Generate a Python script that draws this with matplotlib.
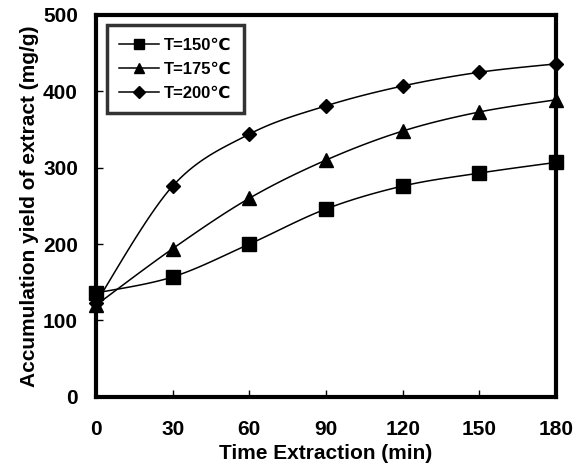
import numpy as np
import matplotlib.pyplot as plt

plt.rcParams['font.family'] = ['Liberation Sans', 'DejaVu Sans']
plt.rcParams['font.weight'] = 'bold'

time_min = [0, 30, 60, 90, 120, 150, 180]
yield_150 = [136, 157, 200, 246, 276, 293, 307]
yield_175 = [120, 194, 260, 310, 348, 373, 389]
yield_200 = [123, 276, 344, 381, 407, 425, 436]
labels = ['T=150\u2103', 'T=175\u2103', 'T=200\u2103']
markers = ['s', '^', 'D']
msizes = [9.5, 10, 7.5]


def smooth(x, y, n=20):
    # excel-like smoothed line: cubic bezier with catmull-rom control points
    x = np.asarray(x, float)
    y = np.asarray(y, float)
    xs, ys = [x[0]], [y[0]]
    for i in range(len(x) - 1):
        p0 = np.array([x[max(i - 1, 0)], y[max(i - 1, 0)]])
        p1 = np.array([x[i], y[i]])
        p2 = np.array([x[i + 1], y[i + 1]])
        p3 = np.array([x[min(i + 2, len(x) - 1)], y[min(i + 2, len(x) - 1)]])
        c1 = p1 + (p2 - p0) / 6
        c2 = p2 - (p3 - p1) / 6
        t = np.linspace(0, 1, n)[1:, None]
        pts = ((1 - t) ** 3) * p1 + 3 * ((1 - t) ** 2) * t * c1 + 3 * (1 - t) * t ** 2 * c2 + t ** 3 * p2
        xs.extend(pts[:, 0])
        ys.extend(pts[:, 1])
    return xs, ys


fig = plt.figure(figsize=(5.78, 4.68), dpi=100)
ax = fig.add_axes([0.166, 0.152, 0.796, 0.816])

for ys, lab, m, ms in zip([yield_150, yield_175, yield_200], labels, markers, msizes):
    sx, sy = smooth(time_min, ys)
    ax.plot(sx, sy, color='black', lw=1.1, zorder=2)
    ax.plot(time_min, ys, linestyle='none', marker=m, ms=ms, color='black', clip_on=False, zorder=3)
    ax.plot([], [], color='black', lw=1.1, marker=m, ms=ms, label=lab)

ax.set_xlim(0, 180)
ax.set_ylim(0, 500)
ax.set_xticks(time_min)
ax.set_yticks([0, 100, 200, 300, 400, 500])
ax.tick_params(direction='in', length=5, width=1, labelsize=15)
ax.tick_params(axis='x', pad=17)
ax.tick_params(axis='y', pad=13)
for lbl in ax.get_xticklabels() + ax.get_yticklabels():
    lbl.set_fontweight('bold')
for sp in ax.spines.values():
    sp.set_linewidth(3)

ax.set_xlabel('Time Extraction (min)', fontsize=15, fontweight='bold', labelpad=3)
ax.set_ylabel('Accumulation yield of extract (mg/g)', fontsize=15, fontweight='bold', labelpad=3)

leg = ax.legend(loc='upper left', bbox_to_anchor=(0.024, 0.974), frameon=True, fancybox=False,
                edgecolor='black', fontsize=12, handlelength=2.4, borderpad=0.75,
                labelspacing=0.55, handletextpad=0.25, markerscale=0.75, borderaxespad=0)
leg.get_frame().set_linewidth(2.5)
for t in leg.get_texts():
    t.set_fontweight('bold')

fig.savefig('out.png', dpi=100)
